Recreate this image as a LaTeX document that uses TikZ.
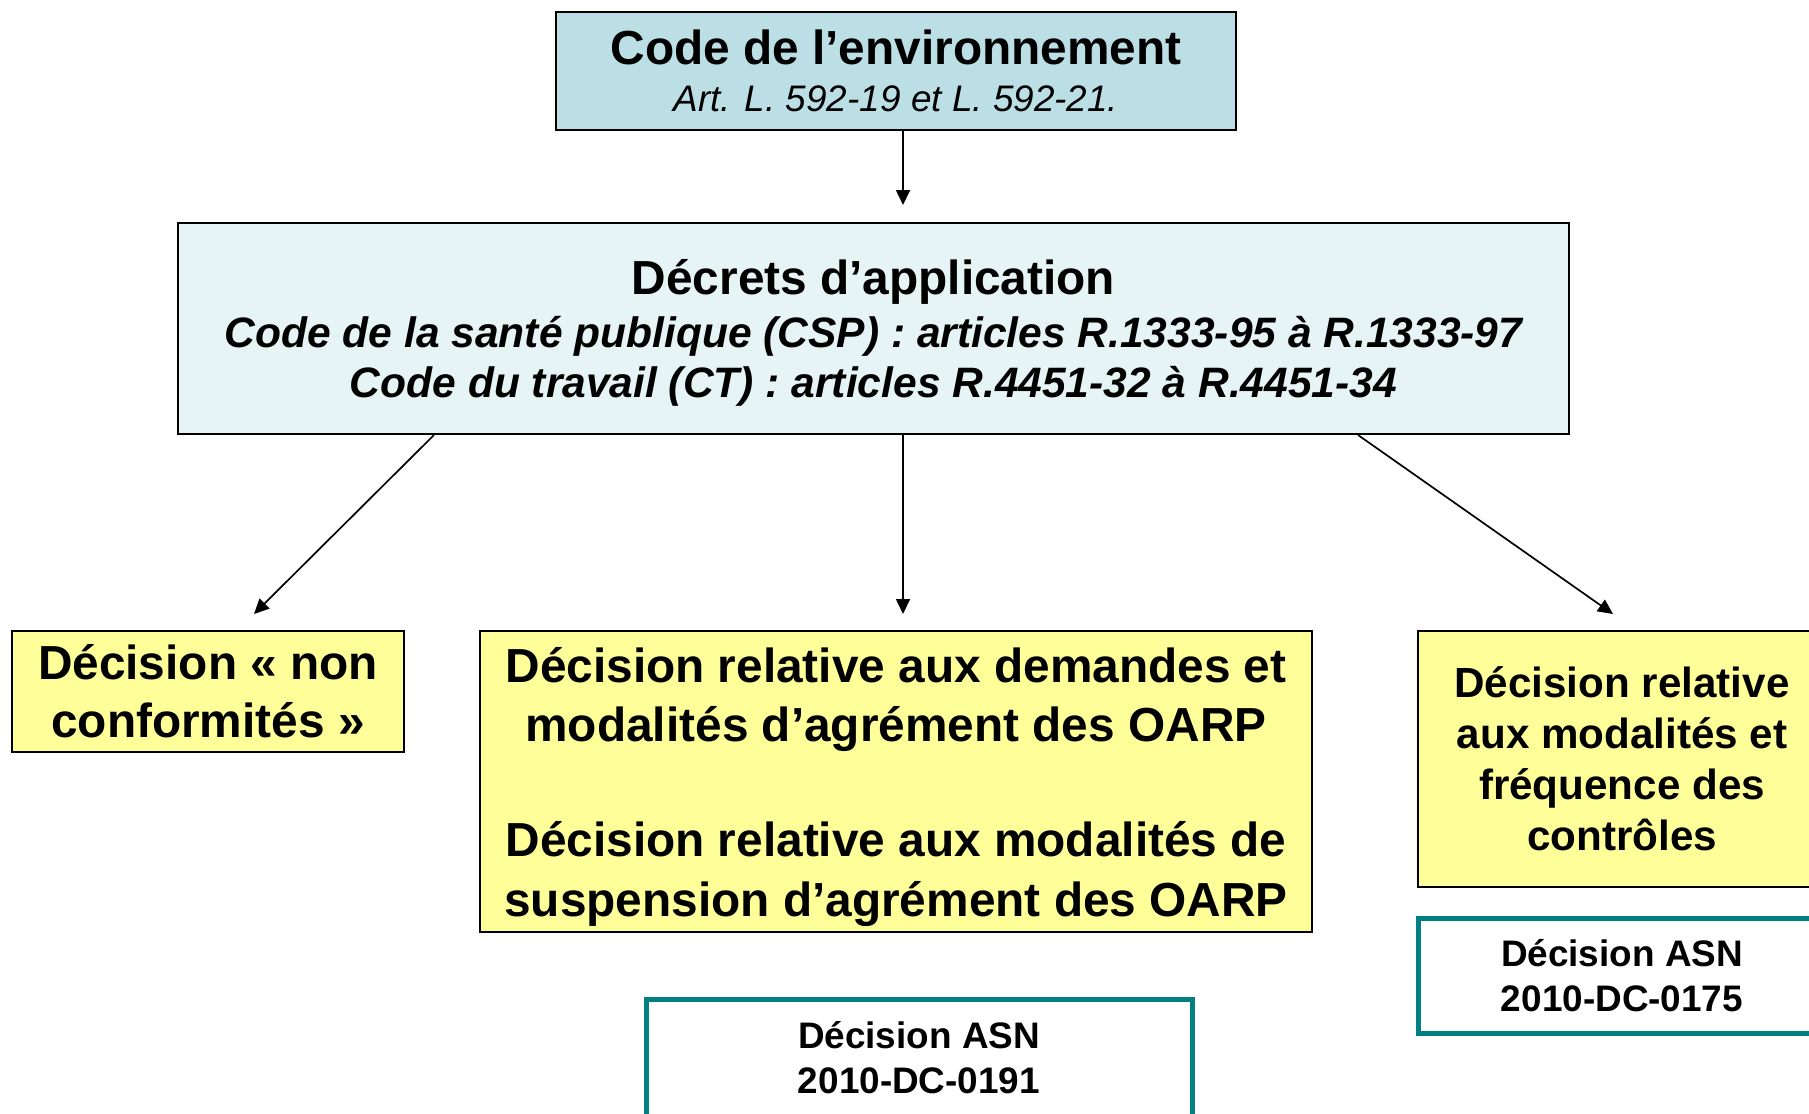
\documentclass[tikz,border=0pt]{standalone}
\usepackage{fontspec}
\setmainfont{Liberation Sans}
\usetikzlibrary{arrows.meta}

\definecolor{codeblue}{RGB}{188,223,229}
\definecolor{decretblue}{RGB}{230,244,245}
\definecolor{decisionyellow}{RGB}{255,255,153}
\definecolor{asnteal}{RGB}{0,128,128}

\begin{document}
\begin{tikzpicture}[x=0.1mm,y=-0.1mm]
        \tikzstyle{every node}=[rectangle,inner sep=0pt,align=center]
        \tikzstyle{box}=[draw=black,line width=0.2mm]
        \tikzstyle{codebox}=[box,fill=codeblue,font=\fontsize{10.5}{13.4}\selectfont]
        \tikzstyle{decretbox}=[box,fill=decretblue,text depth=0pt,font=\bfseries\itshape\fontsize{12.1}{14.2}\selectfont]
        \tikzstyle{decisionbox}=[box,fill=decisionyellow]
        \tikzstyle{asnbox}=[draw=asnteal,line width=0.5mm,fill=white,font=\bfseries\fontsize{10.5}{12.8}\selectfont]
        \tikzstyle{arrow}=[line width=0.17mm,-{Triangle[length=1.5mm,width=1.4mm]}]
        \useasboundingbox (0,0) rectangle (1809,1113);
        \clip (0,0) rectangle (1809,1113);
        % codes
        \node[codebox,minimum width=68mm,minimum height=11.85mm] (code) at (896,71)
            {{\bfseries\fontsize{13.6}{13.4}\selectfont Code de l’environnement}\\
             {\itshape Art. L. 592-19 et L. 592-21.}};
        \node[decretbox,minimum width=139.1mm,minimum height=21.1mm] (decrets) at (873.5,328.5)
            {{\upshape\fontsize{13.6}{14.2}\selectfont Décrets d’application}\\[1pt]
             Code de la santé publique (CSP) : articles R.1333-95 à R.1333-97\\
             Code du travail (CT) : articles R.4451-32 à R.4451-34};
        % decisions
        \node[decisionbox,font=\bfseries\fontsize{13.6}{16.6}\selectfont,minimum width=39.25mm,minimum height=12.05mm] (nonconf) at (208,691.5)
            {Décision « non\\ conformités »};
        \node[decisionbox,text depth=0pt,font=\bfseries\fontsize{13.6}{16.9}\selectfont,minimum width=83.2mm,minimum height=30.1mm] (oarp) at (896,781.5)
            {Décision relative aux demandes et\\ modalités d’agrément des OARP\\[15.9pt]
             Décision relative aux modalités de\\ suspension d’agrément des OARP};
        \node[decisionbox,font=\bfseries\fontsize{12}{14.5}\selectfont,minimum width=40.8mm,minimum height=25.6mm] (controles) at (1622,759)
            {Décision relative\\ aux modalités et\\ fréquence des\\ contrôles};
        \node[asnbox,minimum width=40.8mm,minimum height=11.5mm] (asnright) at (1622,975.5)
            {Décision ASN\\ 2010-DC-0175};
        \node[asnbox,minimum width=54.6mm,minimum height=11.7mm] (asnmid) at (919,1057.5)
            {Décision ASN\\ 2010-DC-0191};
        % arrows
        \coordinate (toptip) at (903,205);
        \coordinate (lefttail) at (434,0);
        \coordinate (lefttip) at (254,614);
        \coordinate (midtip) at (903,614);
        \coordinate (righttail) at (1358,0);
        \coordinate (righttip) at (1613,614);
        \draw[arrow] (code.south -| toptip) -- (toptip);
        \draw[arrow] (decrets.south -| lefttail) -- (lefttip);
        \draw[arrow] (decrets.south -| midtip) -- (midtip);
        \draw[arrow] (decrets.south -| righttail) -- (righttip);
    \end{tikzpicture}
\end{document}
